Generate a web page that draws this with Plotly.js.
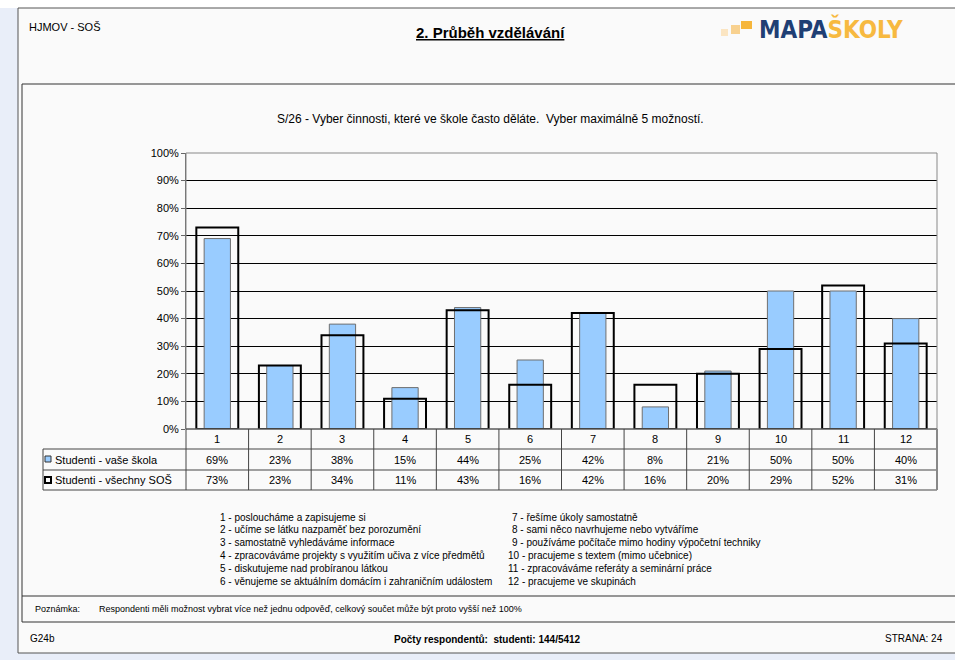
<!DOCTYPE html>
<html>
<head>
<meta charset="utf-8">
<script src="https://cdn.plot.ly/plotly-3.0.1.min.js"></script>
<style>html,body{margin:0;padding:0;background:#fff;}#chart{width:955px;height:660px;}</style>
</head>
<body>
<div id="chart"></div>
<script>
// ---- data ----
const categories = ['1','2','3','4','5','6','7','8','9','10','11','12'];
const schoolValues = [69,23,38,15,44,25,42,8,21,50,50,40];
const allValues = [73,23,34,11,43,16,42,16,20,29,52,31];
const seriesNames = ['Studenti - vaše škola','Studenti - všechny SOŠ'];
const yTickVals = [0,10,20,30,40,50,60,70,80,90,100];
const yTickText = ['0%','10%','20%','30%','40%','50%','60%','70%','80%','90%','100%'];
const itemLabelsLeft = [
  '1 - posloucháme a zapisujeme si',
  '2 - učíme se látku nazpaměť bez porozumění',
  '3 - samostatně vyhledáváme informace',
  '4 - zpracováváme projekty s využitím učiva z více předmětů',
  '5 - diskutujeme nad probíranou látkou',
  '6 - věnujeme se aktuálním domácím i zahraničním událostem'
];
const itemLabelsRight = [
  '7 - řešíme úkoly samostatně',
  '8 - sami něco navrhujeme nebo vytváříme',
  '9 - používáme počítače mimo hodiny výpočetní techniky',
  '10 - pracujeme s textem (mimo učebnice)',
  '11 - zpracováváme referáty a seminární práce',
  '12 - pracujeme ve skupinách'
];
const chartTitle = 'S/26 - Vyber činnosti, které ve škole často děláte.  Vyber maximálně 5 možností.';
const pageTitle = '2. Průběh vzdělávání';
const headerLeft = 'HJMOV - SOŠ';
const noteLabel = 'Poznámka:';
const noteText = 'Respondenti měli možnost vybrat více než jednu odpověď, celkový součet může být proto vyšší než 100%';
const footerLeft = 'G24b';
const footerCenter = 'Počty respondentů:  studenti: 144/5412';
const footerRight = 'STRANA: 24';

// ---- layout helpers (pixel -> paper) ----
const W = 955, H = 660;
const L = 186, R = 937, T = 153, B = 429;
const px = x => (x - L) / (R - L);
const py = y => (B - y) / (B - T);
const FONT = 'Liberation Sans, Arial, sans-serif';

const traces = [
  {
    type: 'bar', name: seriesNames[0], x: categories, y: schoolValues,
    width: 0.42, marker: {color: '#99ccff', line: {color: '#6f6f6f', width: 1}},
    hoverinfo: 'skip', showlegend: false
  },
  {
    type: 'bar', name: seriesNames[1], x: categories, y: allValues,
    width: 0.67, marker: {color: 'rgba(0,0,0,0)', line: {color: '#000', width: 2}},
    hoverinfo: 'skip', showlegend: false
  }
];

const shapes = [];
const annotations = [];
function rectPx(x0, y0, x1, y1, fill, line, lw, layer) {
  shapes.push({type: 'rect', xref: 'paper', yref: 'paper', x0: px(x0), x1: px(x1), y0: py(y1), y1: py(y0),
    fillcolor: fill, line: {color: line || 'rgba(0,0,0,0)', width: lw || 0}, layer: layer || 'below'});
}
function linePx(x0, y0, x1, y1, color, lw, layer) {
  shapes.push({type: 'line', xref: 'paper', yref: 'paper', x0: px(x0), x1: px(x1), y0: py(y0), y1: py(y1),
    line: {color: color, width: lw || 1}, layer: layer || 'above'});
}
function textPx(x, y, text, opts) {
  opts = opts || {};
  annotations.push({xref: 'paper', yref: 'paper', x: px(x), y: py(y), text: text, showarrow: false,
    xanchor: opts.xanchor || 'left', yanchor: 'middle',
    font: Object.assign({family: FONT, size: opts.size || 11, color: opts.color || '#000'}, opts.font || {})});
}

// background strips and page
rectPx(0, 8, 18, 660, '#e9eef9');
rectPx(0, 653, 960, 660, '#e9eef9');
rectPx(18, 8, 962, 653, '#fafafa', '#555', 1);
rectPx(22, 84, 962, 622, 'rgba(0,0,0,0)', '#333', 1);
linePx(22, 596, 962, 596, '#333', 1, 'below');

// header
textPx(27, 27, headerLeft, {size: 11});
textPx(490, 32, pageTitle, {xanchor: 'center', size: 15, font: {weight: 'bold', lineposition: 'under'}});
// logo
rectPx(721, 29, 728, 36, '#fbe5c2');
rectPx(731, 25, 740, 34, '#f8d18f');
rectPx(741, 21, 752, 29, '#f6b63c');
textPx(757, 29, '<span style="color:#1f3f74">MAPA</span><span style="color:#f7b940">ŠKOLY</span>',
  {size: 24, font: {family: 'DejaVu Sans Condensed, sans-serif', weight: 'bold'}});

// chart title
textPx(490, 119, chartTitle, {xanchor: 'center', size: 12});

// plot frame
shapes.push({type: 'rect', xref: 'paper', yref: 'paper', x0: 0, x1: 1, y0: 0, y1: 1,
  line: {color: '#888', width: 1}, fillcolor: 'rgba(0,0,0,0)', layer: 'above'});

// data table
const rowTop = 429, row1 = 449, row2 = 470, row3 = 490, tblLeft = 43;
linePx(L, rowTop, R, rowTop, '#444', 1);
linePx(tblLeft, row1, R, row1, '#444', 1);
linePx(tblLeft, row2, R, row2, '#444', 1);
linePx(tblLeft, row3, R, row3, '#444', 1);
linePx(tblLeft, row1, tblLeft, row3, '#444', 1);
linePx(L, rowTop, L, row3, '#444', 1);
linePx(R, rowTop, R, row3, '#888', 2);
for (let k = 1; k < categories.length; k++) {
  shapes.push({type: 'line', xref: 'x', yref: 'paper', x0: k - 0.5, x1: k - 0.5, y0: py(rowTop), y1: py(row3),
    line: {color: '#444', width: 1}, layer: 'above'});
}
categories.forEach((c, i) => {
  annotations.push({xref: 'x', yref: 'paper', x: i, y: py((rowTop + row1) / 2), text: c, showarrow: false,
    xanchor: 'center', yanchor: 'middle', font: {family: FONT, size: 11, color: '#000'}});
  annotations.push({xref: 'x', yref: 'paper', x: i, y: py((row1 + row2) / 2), text: schoolValues[i] + '%', showarrow: false,
    xanchor: 'center', yanchor: 'middle', font: {family: FONT, size: 11, color: '#000'}});
  annotations.push({xref: 'x', yref: 'paper', x: i, y: py((row2 + row3) / 2), text: allValues[i] + '%', showarrow: false,
    xanchor: 'center', yanchor: 'middle', font: {family: FONT, size: 11, color: '#000'}});
});
// legend keys in table
rectPx(45, 456, 51, 462, '#99ccff', '#333', 1, 'above');
rectPx(45, 477, 51, 483, '#fafafa', '#000', 2, 'above');
textPx(53, 459.5, seriesNames[0], {size: 11});
textPx(53, 480, seriesNames[1], {size: 11});

// item descriptions
itemLabelsLeft.forEach((t, i) => textPx(218, 517 + i * 12.8, t, {size: 10}));
itemLabelsRight.forEach((t, i) => textPx(i < 3 ? 510 : 506, 517 + i * 12.8, t, {size: 10}));

// note & footer
textPx(33, 609, noteLabel, {size: 9});
textPx(97, 609, noteText, {size: 9});
textPx(28, 638, footerLeft, {size: 10});
textPx(487, 639, footerCenter, {xanchor: 'center', size: 10, font: {weight: 'bold'}});
textPx(945, 638, footerRight, {xanchor: 'right', size: 10});

const layout = {
  width: W, height: H,
  margin: {l: L, r: W - R, t: T, b: H - B, pad: 0},
  paper_bgcolor: '#ffffff',
  plot_bgcolor: 'rgba(0,0,0,0)',
  barmode: 'overlay',
  showlegend: false,
  xaxis: {type: 'category', range: [-0.5, 11.5], showticklabels: false, ticks: '', showgrid: false,
    zeroline: false, showline: false, fixedrange: true},
  yaxis: {range: [0, 100], tickmode: 'array', tickvals: yTickVals, ticktext: yTickText, ticks: 'outside', ticklen: 4,
    tickcolor: '#666', tickfont: {family: FONT, size: 11, color: '#000'}, showgrid: true,
    gridcolor: '#000', gridwidth: 1, zeroline: false, showline: true, linecolor: '#666', linewidth: 1,
    fixedrange: true},
  shapes: shapes,
  annotations: annotations,
  font: {family: FONT}
};

Plotly.newPlot('chart', traces, layout, {displayModeBar: false, staticPlot: true});
</script>
</body>
</html>
